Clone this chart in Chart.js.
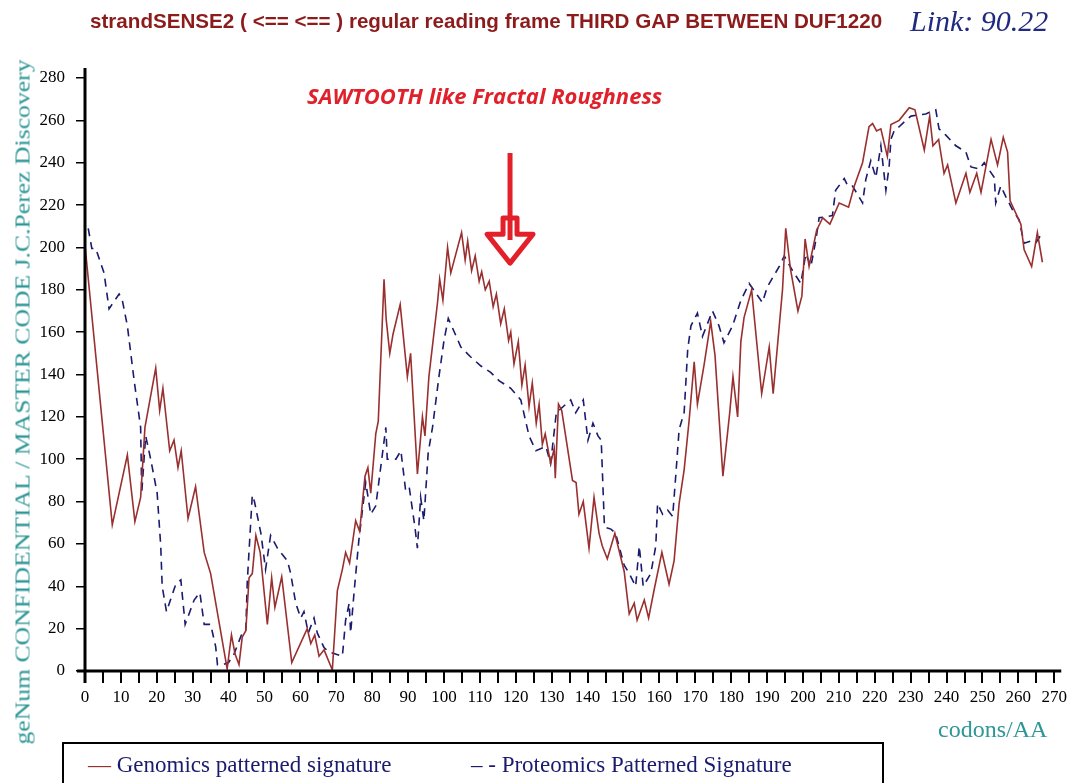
<!DOCTYPE html>
<html>
<head>
<meta charset="utf-8">
<script src="https://cdn.jsdelivr.net/npm/chart.js@4.4.1/dist/chart.umd.min.js"></script>
<style>
  html,body{margin:0;padding:0;background:#fff;}
  #wrap{position:relative;width:1071px;height:783px;overflow:hidden;background:#fff;}
  #c{position:absolute;left:0;top:0;}
  .t{position:absolute;white-space:nowrap;}
  #title{left:90px;top:9px;font-family:"Liberation Sans Narrow","Liberation Sans",Arial,sans-serif;font-weight:bold;font-size:21px;color:#8c1c1c;transform-origin:0 50%;}
  #link{left:910px;top:4px;font-family:"Liberation Serif","Times New Roman",serif;font-style:italic;font-size:30px;color:#1f2a80;}
  #note{left:307px;top:82px;font-family:"Open Sans","Liberation Sans",sans-serif;font-weight:bold;font-style:italic;font-size:21px;color:#e0202a;transform-origin:0 50%;}
  #ytitle{left:22px;top:402px;font-family:"Liberation Serif","Times New Roman",serif;font-size:22px;color:#2e9696;}
  #xtitle{left:938px;top:716px;font-family:"Liberation Serif","Times New Roman",serif;font-size:24px;color:#2e9696;}
  #legend{position:absolute;left:62px;top:742px;width:822px;height:60px;border:2px solid #000;box-sizing:border-box;}
  .lg{position:absolute;top:8px;font-family:"Liberation Serif","Times New Roman",serif;font-size:23px;color:#1a1a6e;white-space:nowrap;}
</style>
</head>
<body>
<div id="wrap">
  <canvas id="c" width="1071" height="783"></canvas>
  <div class="t" id="title">strandSENSE2 ( &lt;== &lt;== ) regular reading frame THIRD GAP BETWEEN DUF1220</div>
  <div class="t" id="link">Link: 90.22</div>
  <div class="t" id="note">SAWTOOTH like Fractal Roughness</div>
  <div class="t" id="ytitle">geNum CONFIDENTIAL / MASTER CODE J.C.Perez Discovery</div>
  <div class="t" id="xtitle">codons/AA</div>
  <div id="legend">
    <div class="lg" style="left:24px;"><span style="color:#9a2f2f">—</span> Genomics patterned signature</div>
    <div class="lg" style="left:407px;">– - Proteomics Patterned Signature</div>
  </div>
</div>
<script>
// ---- data ----
const genomicsX = [0,7.6,11.8,13.9,15.5,16.7,19.7,20.8,21.7,23.6,24.8,25.9,26.8,28.7,30.8,33.2,35,39.6,40.8,41.8,42.9,43.8,44.8,45.7,46.6,47.6,48.8,50.8,52,52.9,54.8,57.6,61.9,62.9,64,65.2,66.6,68.9,70.3,71.7,72.6,73.7,75.4,76.5,78,78.8,79.6,81,81.7,83.3,83.9,84.9,85.8,87.8,89.8,90.7,92.6,94,94.7,95.8,98.2,98.8,99.7,101,101.9,104.9,105.9,106.6,107.7,108.7,109.8,110.5,111.5,112.6,113.7,114.6,115.8,116.8,118,118.6,119.5,120.7,121.7,122.6,123.7,124.6,125.7,126.5,127.4,128.2,129.7,130.7,131,131.9,132.8,135.8,136.8,137.6,138.8,140.4,141.8,143.2,144.1,145.5,147.6,150.2,151.6,153,153.8,155.8,157,158.5,160.7,162.7,164.1,165.5,166.9,168.3,169.7,170.6,172.5,174.3,175.5,177.7,179.6,180.5,181.8,182.7,183.6,185.7,188.5,190.6,191.7,194.3,195.2,196.5,198.6,199.7,200.6,201.7,203.8,205.5,207.5,210.1,212.7,214.3,216.6,218.4,219.4,220.5,221.7,223.5,224.5,226.8,229.6,231.2,233.8,235.3,236.2,237.8,239.3,240.3,242.6,245.4,246.5,248.4,249.6,252.4,254.2,255.8,257,257.7,260.7,261.6,263.7,265.3,266.7];
const genomicsY = [201,69,102,70.5,82,115,143,123,133.5,104,109,96,104,72,87,56,46,1,17,8,3,16,19,44,46,64,56,22,44,30,44.5,4,20,13,17,7,10,0.5,38,48,56,51,71,66,92,96,84,112,118,185,166,150,159,173,139,150,93,120,111,139,174,185,175,200,188,207,194,203,189,196,184,188.5,180,184,172,178,164,171,156,160,145,155.5,135,144.5,125,136,117,126,107,112,98,105,91,126,123,90,89,74,80,58,82,65,59,53,65,47,27,32,24,33.5,25,38,56,41,52,79,95,118.5,146,126,145,165,149,92,122,139,120,155.5,167,180,131,153,131,180,209,190,170,177,204,191,208,214,211,221,219,229,240,257,258.5,255,256,243,258,260,266,265,246,262,248,251,235,239,221,235,226,235,226,251,239,252,245,222,211,199,191,207,193];
const proteomicsX = [0.9,1.9,3,5.3,6.7,9.5,10.4,11.8,13.7,15.5,15.8,16.9,18.3,20.1,21.1,21.5,22.7,25.3,26.7,27.9,30.4,32,33.2,35,36.4,36.9,38.3,40,41.5,43.8,44.8,45.2,46.6,47.2,49,50.3,51.7,53.6,56.4,57.3,58.7,60.1,61,62.2,63.8,64.7,66.6,68,71.7,72.6,73.6,74,75,76.3,78.2,79.6,81,83.8,84.2,86.6,88,89.3,90.3,91.9,92.6,93.5,94.4,95.6,96.8,98.6,100,101.2,104.7,107.3,110.3,113,115.4,118.6,121.4,123.7,125.6,128.4,129.7,131.3,135.3,136.7,138.8,140.1,141.5,142.9,143.8,144.7,146.5,147.8,150.2,151.6,152.5,153.4,154.4,155.5,157.6,159,159.5,160.9,162.3,163.7,164.6,165.5,166.9,167.9,168.8,170.6,172,174.8,176.6,178,180.4,182.7,185,188.7,190.1,193.4,194.8,197.1,199.4,200.8,202.2,203.6,204.5,208.2,209.1,211.5,212.5,213.8,216.6,217.5,218.9,220.3,221.7,223.1,224,224.5,225.4,226.8,228.7,230.1,231.9,234.2,237,237.9,239.8,242.6,245.4,246.8,249.1,250.5,253.3,253.7,255.1,256.5,258.3,260.2,261.6,263.4,264.8,266.7];
const proteomicsY = [209,199.5,199.5,188,171,178,175,163,137,115,84,111,100,84,59,40,28,41,43,22,33.5,37,22,22,11.5,3,3,4,8,18,19,42,83,80,65,48,64,58,52,46,32,25,28,18,25,18,11,9,7,24,32,18,38,62,89,74,78,115,100,100,104,85.5,87,68,58,82,71,103,115,139,156,166.5,153,148.5,144,141,137,133.5,128,111,104,106,98,122,128,122,128,109,117,111,109,68,67,65,50,46,43,40,59,40,46,59,79,74,76,73,93,114,122,152,163,169,158,170,163,155,163,175,183,174,181.5,191,196,189,183,197,191,203.5,214,215,227,232.5,229,229,221,232,241,233,248,227,238,251,255,257,260,262,262.5,263,265,256,253,248,245,238,237,240,233,221,229,224,218,213,202,203,202,207];
const xTickLabels = [0,10,20,30,40,50,60,70,80,90,100,110,120,130,140,150,160,170,180,190,200,210,220,230,240,250,260,270];
const yTickLabels = [0,20,40,60,80,100,120,140,160,180,200,220,240,260,280];
const seriesNames = ["Genomics patterned signature","Proteomics Patterned Signature"];
// annotation arrow position in data units
const arrowAt = {x:118.4, top:244.6, headTop:213.9, wing:202.5, tip:192.6};

const toPts = (xs, ys) => xs.map((x,i)=>({x:x, y:ys[i]}));

// fit text spans to the lengths seen in the reference
function fitText(){
  const t = document.getElementById('title');
  t.style.transform = 'scaleX(' + (792 / t.offsetWidth) + ')';
  const n = document.getElementById('note');
  n.style.transform = 'scaleX(' + (355 / n.offsetWidth) + ')';
  const y = document.getElementById('ytitle');
  const k = 685 / y.offsetWidth;
  y.style.left = (22 - y.offsetWidth/2) + 'px';
  y.style.top = (402 - y.offsetHeight/2) + 'px';
  y.style.transform = 'rotate(-90deg) scaleX(' + k + ')';
}
fitText();

const axesPlugin = {
  id:'axesPlugin',
  afterDraw(chart){
    const {ctx, chartArea:a, scales} = chart;
    ctx.save();
    ctx.strokeStyle = '#000';
    ctx.lineWidth = 3;
    ctx.beginPath();
    ctx.moveTo(a.left-8, a.bottom); ctx.lineTo(a.right+7, a.bottom);
    ctx.moveTo(a.left, a.top-10); ctx.lineTo(a.left, a.bottom+12);
    ctx.stroke();
    // red annotation arrow
    const xs = scales.x, ys = scales.y;
    const cx = xs.getPixelForValue(arrowAt.x);
    const yTop = ys.getPixelForValue(arrowAt.top);
    const yHead = ys.getPixelForValue(arrowAt.headTop);
    const yWing = ys.getPixelForValue(arrowAt.wing);
    const yTip = ys.getPixelForValue(arrowAt.tip);
    ctx.strokeStyle = '#e3202a';
    ctx.lineWidth = 5;
    ctx.lineJoin = 'round';
    ctx.beginPath();
    ctx.moveTo(cx, yTop); ctx.lineTo(cx, yHead + 22);
    ctx.stroke();
    ctx.beginPath();
    ctx.moveTo(cx-7, yHead);
    ctx.lineTo(cx+7, yHead);
    ctx.lineTo(cx+7, yWing-8);
    ctx.lineTo(cx+23, yWing-8);
    ctx.lineTo(cx, yTip);
    ctx.lineTo(cx-23, yWing-8);
    ctx.lineTo(cx-7, yWing-8);
    ctx.closePath();
    ctx.stroke();
    ctx.restore();
  }
};

new Chart(document.getElementById('c'), {
  type:'line',
  data:{
    datasets:[
      {label:seriesNames[0], data:toPts(genomicsX, genomicsY), borderColor:'#9a2f2f', borderWidth:1.6, pointRadius:0, tension:0, fill:false},
      {label:seriesNames[1], data:toPts(proteomicsX, proteomicsY), borderColor:'#1a1a6e', borderWidth:1.6, borderDash:[8,6], pointRadius:0, tension:0, fill:false}
    ]
  },
  options:{
    responsive:false,
    animation:false,
    events:[],
    layout:{padding:{left:0, top:78, right:16, bottom:0}},
    plugins:{legend:{display:false}, tooltip:{enabled:false}, title:{display:false}},
    scales:{
      x:{
        type:'linear', min:0, max:270,
        afterFit(s){ s.height = 112; },
        afterBuildTicks(s){ const t=[]; for(let v=0; v<=270; v+=5) t.push({value:v}); s.ticks=t; },
        border:{display:false},
        grid:{drawOnChartArea:false, drawTicks:true, tickLength:12, color:'#000', lineWidth:2},
        ticks:{
          autoSkip:false, maxRotation:0, padding:4, color:'#000',
          font:{family:'"Liberation Serif","Times New Roman",serif', size:17},
          callback:(v)=> xTickLabels.includes(v) ? String(v) : ''
        }
      },
      y:{
        type:'linear', min:0, max:280,
        afterFit(s){ s.width = 85; },
        afterBuildTicks(s){ s.ticks = yTickLabels.map(v=>({value:v})); },
        border:{display:false},
        grid:{drawOnChartArea:false, drawTicks:true, tickLength:9, color:'#000', lineWidth:1.5},
        ticks:{
          padding:11, color:'#000',
          font:{family:'"Liberation Serif","Times New Roman",serif', size:17},
          callback:(v)=> String(v)
        }
      }
    }
  },
  plugins:[axesPlugin]
});
</script>
</body>
</html>
